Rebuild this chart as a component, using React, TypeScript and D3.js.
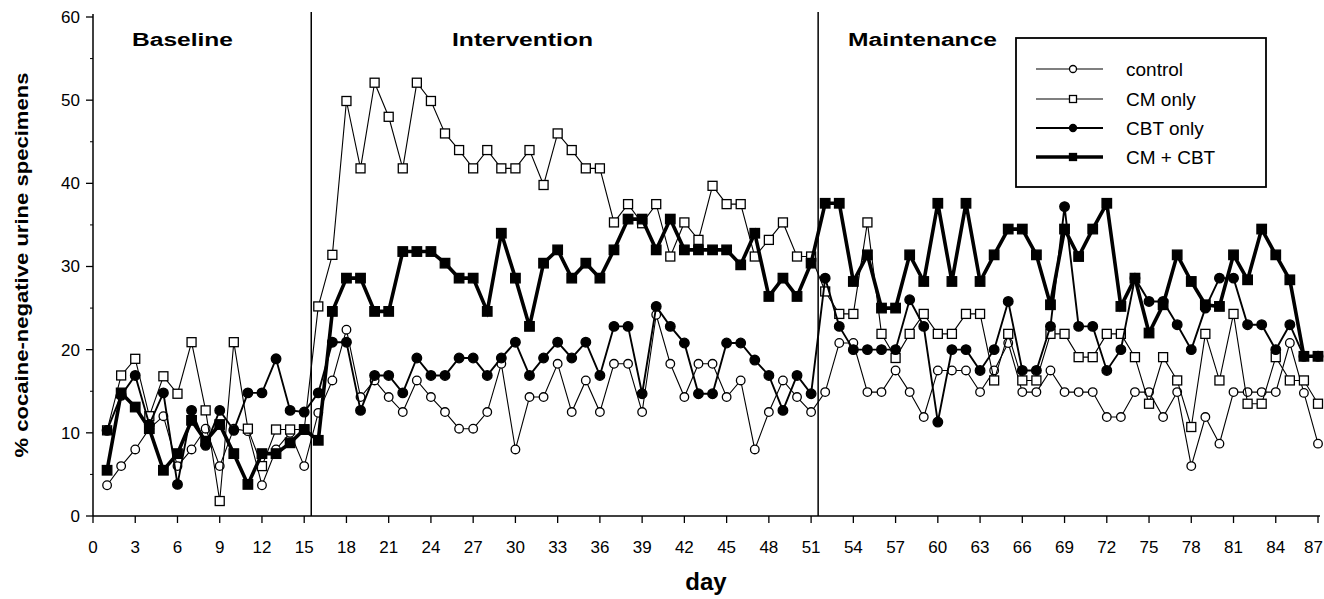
import React from "react";
import * as d3 from "d3";

const DAYS = d3.range(1, 88);
const CONTROL = [3.7, 6, 8, 10.5, 12, 6, 8, 10.5, 6, 10.5, 10.2, 3.7, 8, 10, 6,
  12.4, 16.3, 22.4, 14.3, 16.3, 14.3, 12.5, 16.3, 14.3, 12.5,
  10.5, 10.5, 12.5, 18.3, 8, 14.3, 14.3, 18.3, 12.5, 16.3,
  12.5, 18.3, 18.3, 12.5, 24.2, 18.3, 14.3, 18.3, 18.3, 14.3,
  16.3, 8, 12.5, 16.3, 14.3, 12.5,
  14.9, 20.8, 20.8, 14.9, 14.9, 17.5, 14.9, 11.9, 17.5, 17.5,
  17.5, 14.9, 17.5, 20.8, 14.9, 14.9, 17.5, 14.9, 14.9, 14.9,
  11.9, 11.9, 14.9, 14.9, 11.9, 14.9, 6, 11.9, 8.7, 14.9,
  14.9, 14.9, 14.9, 20.8, 14.8, 8.7];
const CM_ONLY = [10.3, 16.9, 18.9, 12, 16.8, 14.7, 20.9, 12.7, 1.8, 20.9, 10.5, 6, 10.4, 10.4, 10.4,
  25.2, 31.4, 49.9, 41.8, 52.1, 48.0, 41.8, 52.1, 49.9, 46.0,
  44.0, 41.8, 44.0, 41.8, 41.8, 44.0, 39.8, 46.0, 44.0, 41.8,
  41.8, 35.3, 37.5, 35.2, 37.5, 31.2, 35.3, 33.2, 39.7, 37.5,
  37.5, 31.2, 33.2, 35.3, 31.2, 31.2,
  27.0, 24.3, 24.3, 35.3, 21.9, 19.0, 21.9, 24.3, 21.9, 21.9,
  24.3, 24.3, 16.3, 21.9, 16.3, 16.3, 21.9, 21.9, 19.1, 19.1,
  21.9, 21.9, 19.1, 13.5, 19.1, 16.3, 10.7, 21.9, 16.3, 24.3,
  13.5, 13.5, 19.1, 16.3, 16.3, 13.5];
const CBT_ONLY = [10.3, 14.5, 16.9, 11, 14.8, 3.8, 12.7, 8.5, 12.7, 10.3, 14.8, 14.8, 18.9, 12.7, 12.5,
  14.8, 20.9, 20.9, 12.7, 16.9, 16.9, 14.8, 19.0, 16.9, 16.9,
  19.0, 19.0, 16.9, 19.0, 20.9, 16.9, 19.0, 20.9, 19.0, 20.9,
  16.9, 22.8, 22.8, 14.7, 25.2, 22.8, 20.8, 14.7, 14.7, 20.8,
  20.8, 18.75, 16.9, 12.7, 16.9, 14.7,
  28.6, 22.8, 20.0, 20.0, 20.0, 20.0, 26.0, 22.8, 11.3, 20.0,
  20.0, 17.5, 20.0, 25.8, 17.5, 17.5, 22.8, 37.2, 22.8, 22.8,
  17.5, 20.0, 28.6, 25.8, 25.8, 23.0, 20.0, 25.0, 28.6, 28.6,
  23.0, 23.0, 20.0, 23.0, 19.2, 19.2];
const CM_CBT = [5.5, 14.8, 13.1, 10.5, 5.5, 7.5, 11.5, 9.0, 11, 7.5, 3.8, 7.5, 7.5, 8.8, 10.4,
  9.1, 24.6, 28.6, 28.6, 24.6, 24.6, 31.8, 31.8, 31.8, 30.4,
  28.6, 28.6, 24.6, 34.0, 28.6, 22.8, 30.4, 32.0, 28.6, 30.4,
  28.6, 32.0, 35.7, 35.7, 32.0, 35.7, 32.0, 32.0, 32.0, 32.0,
  30.2, 34.0, 26.4, 28.6, 26.4, 30.4,
  37.6, 37.6, 28.2, 31.4, 25.0, 25.0, 31.4, 28.2, 37.6, 28.2,
  37.6, 28.2, 31.4, 34.5, 34.5, 31.4, 25.4, 34.5, 31.2, 34.5,
  37.6, 25.2, 28.6, 22.0, 25.4, 31.4, 28.2, 25.4, 25.2, 31.4,
  28.4, 34.5, 31.4, 28.4, 19.2, 19.2];

const SERIES_NAMES = ["control", "CM only", "CBT only", "CM + CBT"];
const Y_TICKS = [0, 10, 20, 30, 40, 50, 60];
const Y_MINOR = [5, 15, 25, 35, 45, 55];
const X_TICKS = d3.range(0, 88, 3);
const PHASE_BOUNDS = [15.5, 51.5];
const PHASE_LABELS = ["Baseline", "Intervention", "Maintenance"];

const FONT = "'Liberation Sans', Arial, Helvetica, sans-serif";

type Style = { width: number; shape: "circle" | "square"; filled: boolean; size: number };
const STYLES: Style[] = [
  { width: 1.1, shape: "circle", filled: false, size: 4.3 },
  { width: 1.1, shape: "square", filled: false, size: 9 },
  { width: 1.9, shape: "circle", filled: true, size: 4.8 },
  { width: 3.6, shape: "square", filled: true, size: 9.5 },
];

function Marker({ cx, cy, st }: { cx: number; cy: number; st: Style }) {
  const fill = st.filled ? "#000" : "#fff";
  if (st.shape === "circle")
    return <circle cx={cx} cy={cy} r={st.size} fill={fill} stroke="#000" strokeWidth={1.3} />;
  const s = st.size;
  return <rect x={cx - s / 2} y={cy - s / 2} width={s} height={s} fill={fill} stroke="#000" strokeWidth={1.3} />;
}

export default function App() {
  const x = d3.scaleLinear().domain([0, 87]).range([93, 1318]);
  const y = d3.scaleLinear().domain([0, 60]).range([516, 17]);
  const all = [CONTROL, CM_ONLY, CBT_ONLY, CM_CBT];
  const line = d3.line<number>().x((_, i) => x(DAYS[i])).y((v) => y(v));
  const phaseX = [132, 452, 848];
  const phaseW = [101, 141, 149];
  const legendRows = [69, 99, 128, 157];

  return (
    <svg width={1324} height={599} style={{ position: "absolute", left: 0, top: 0, background: "#fff" }} fontFamily={FONT}>
      {/* axes */}
      <line x1={x(0)} x2={x(0)} y1={y(60) - 3} y2={y(0)} stroke="#000" strokeWidth={1.5} />
      <line x1={x(0)} x2={x(87) + 2} y1={y(0)} y2={y(0)} stroke="#000" strokeWidth={1.5} />
      {Y_TICKS.map((t) => (
        <g key={"y" + t}>
          <line x1={x(0) - 7} x2={x(0)} y1={y(t)} y2={y(t)} stroke="#000" strokeWidth={1.3} />
          <text x={x(0) - 13} y={y(t)} dy="0.35em" textAnchor="end" fontSize={17}>{t}</text>
        </g>
      ))}
      {Y_MINOR.map((t) => (
        <line key={"ym" + t} x1={x(0) - 3} x2={x(0)} y1={y(t)} y2={y(t)} stroke="#000" strokeWidth={1} />
      ))}
      {X_TICKS.map((t, i) => {
        const last = i === X_TICKS.length - 1;
        return (
          <g key={"x" + t}>
            <line x1={x(t)} x2={x(t)} y1={y(0)} y2={y(0) + 7} stroke="#000" strokeWidth={1.3} />
            <text x={last ? 1323 : x(t)} y={y(0) + 31} dy="0.35em" textAnchor={last ? "end" : "middle"} fontSize={17}>{t}</text>
          </g>
        );
      })}
      {/* phase lines */}
      {PHASE_BOUNDS.map((b) => (
        <line key={"p" + b} x1={x(b)} x2={x(b)} y1={12} y2={y(0)} stroke="#000" strokeWidth={1.5} />
      ))}
      {PHASE_LABELS.map((l, i) => (
        <text key={l} x={phaseX[i]} y={46} fontSize={18} fontWeight="bold" textLength={phaseW[i]} lengthAdjust="spacingAndGlyphs">{l}</text>
      ))}
      {/* titles */}
      <text transform={`translate(28,265) rotate(-90)`} textAnchor="middle" fontSize={19} fontWeight="bold" textLength={385} lengthAdjust="spacingAndGlyphs">% cocaine-negative urine specimens</text>
      <text x={706} y={590} textAnchor="middle" fontSize={24} fontWeight="bold">day</text>
      {/* series */}
      {all.map((vals, si) => (
        <g key={"s" + si}>
          <path d={line(vals) || ""} fill="none" stroke="#000" strokeWidth={STYLES[si].width} strokeLinejoin="miter" />
          {vals.map((v, i) => (
            <Marker key={i} cx={x(DAYS[i])} cy={y(v)} st={STYLES[si]} />
          ))}
        </g>
      ))}
      {/* legend */}
      <rect x={1016} y={38} width={250} height={149} fill="#fff" stroke="#000" strokeWidth={1.8} />
      {SERIES_NAMES.map((n, i) => (
        <g key={n}>
          <line x1={1036} x2={1103} y1={legendRows[i]} y2={legendRows[i]} stroke="#000" strokeWidth={STYLES[i].width} />
          <Marker cx={1073} cy={legendRows[i]} st={{ ...STYLES[i], size: STYLES[i].shape === "circle" ? 3.5 : 7 }} />
          <text x={1126} y={legendRows[i]} dy="0.35em" fontSize={19}>{n}</text>
        </g>
      ))}
    </svg>
  );
}
